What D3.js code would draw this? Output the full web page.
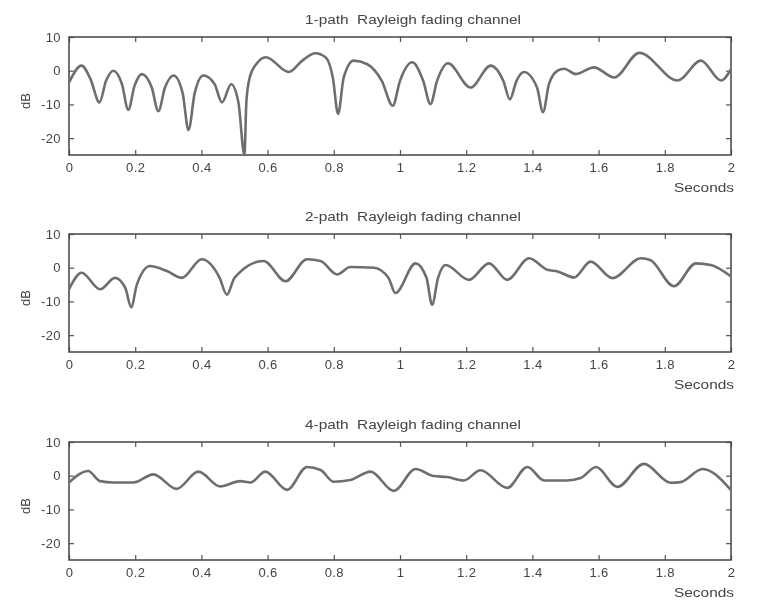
<!DOCTYPE html>
<html>
<head>
<meta charset="utf-8">
<script src="https://cdn.jsdelivr.net/npm/d3@7"></script>
<style>
  body { margin: 0; background: #fff; }
  svg { display: block; font-family: "Liberation Sans", Arial, sans-serif; }
  .tick text { fill: #444; font-size: 13px; letter-spacing: 0.4px; }
  .tick line { stroke: #555; stroke-width: 1.2; }
  .box { fill: none; stroke: #444; stroke-width: 1.5; }
  .trace { fill: none; stroke: #6e6e6e; stroke-width: 2.6; stroke-linejoin: round; }
  .lbl { fill: #444; font-size: 13px; }
</style>
</head>
<body>
<svg width="766" height="602"></svg>
<script>
(function () {
    'use strict';

    const width = 766;
    const height = 602;

    // tick values / labels shared by all three panels
    const xTicks = [0, 0.2, 0.4, 0.6, 0.8, 1, 1.2, 1.4, 1.6, 1.8, 2];
    const xTickLabels = ['0', '0.2', '0.4', '0.6', '0.8', '1', '1.2', '1.4', '1.6', '1.8', '2'];
    const yTicks = [-20, -10, 0, 10];
    const yTickLabels = ['-20', '-10', '0', '10'];

    const titles = ['1-path\u00a0 Rayleigh fading channel', '2-path\u00a0 Rayleigh fading channel', '4-path\u00a0 Rayleigh fading channel'];

    // 1-path
    const time1 = [0, 0.038, 0.065, 0.092, 0.112, 0.134, 0.160, 0.179, 0.198, 0.220, 0.250, 0.270, 0.290, 0.316,
        0.343, 0.361, 0.380, 0.406, 0.440, 0.462, 0.490, 0.512, 0.530, 0.536, 0.546, 0.566, 0.595, 0.664, 0.705, 0.744,
        0.775, 0.797, 0.813, 0.830, 0.860, 0.900, 0.945, 0.978, 1.000, 1.037, 1.070, 1.092, 1.112, 1.145, 1.213,
        1.274, 1.312, 1.332, 1.352, 1.375, 1.414, 1.432, 1.450, 1.476, 1.496, 1.531, 1.586, 1.647, 1.723, 1.839,
        1.909, 1.970, 2.0];
    const level1 = [-3.5, 1.5, -2.5, -9.4, -3.0, 0.0, -4.0, -11.6, -4.5, -1.0, -5.0, -12.0, -5.0, -1.4,
        -6.5, -17.6, -6.5, -1.4, -4.0, -9.4, -4.0, -9.5, -25, -9.0, -2.0, 2.0, 4.0, -0.4, 3.0, 5.2,
        4.0, -2.0, -12.8, -2.0, 3.0, 2.0, -3.0, -10.4, -3.0, 2.5, -3.0, -9.9, -3.0, 2.2, -5.0,
        1.5, -3.0, -8.5, -3.0, -0.4, -5.0, -12.3, -4.0, 0.0, 0.6, -1.0, 1.0, -2.0, 5.3, -2.9,
        3.0, -2.9, 0.5];

    // 2-path
    const time2 = [0, 0.038, 0.094, 0.139, 0.170, 0.188, 0.205, 0.245, 0.296, 0.341, 0.401, 0.455, 0.477, 0.500,
        0.588, 0.654, 0.719, 0.760, 0.810, 0.850, 0.921, 0.965, 0.986, 1.047, 1.080, 1.097, 1.115, 1.138, 1.208,
        1.269, 1.324, 1.390, 1.445, 1.476, 1.526, 1.576, 1.642, 1.728, 1.756, 1.828, 1.894, 1.939, 2.0];
    const level2 = [-6.4, -1.5, -6.4, -3, -6, -11.7, -5, 0.5, -1, -3, 2.5, -3, -8, -3,
        2, -4, 2.5, 2, -2, 0.2, 0, -3, -7.5, 1.3, -3, -11, -3, 0.8, -3.6,
        1.3, -3.6, 2.8, -0.6, -1.1, -2.9, 1.8, -3.1, 2.8, 2.3, -5.5, 1.3, 0.8, -2.6];

    // 4-path
    const time3 = [0, 0.058, 0.094, 0.134, 0.195, 0.255, 0.325, 0.391, 0.457, 0.517, 0.548, 0.593, 0.659, 0.719,
        0.760, 0.800, 0.850, 0.911, 0.981, 1.047, 1.102, 1.143, 1.193, 1.243, 1.324, 1.385, 1.435, 1.505, 1.546,
        1.592, 1.657, 1.737, 1.818, 1.848, 1.914, 2.0];
    const level3 = [-2, 1.4, -1.6, -2, -2, 0.4, -3.9, 1.2, -3.2, -1.6, -2, 1.2, -4.2, 2.6,
        1.7, -1.8, -1.3, 1.2, -4.5, 2, -0.1, -0.4, -1.4, 1.6, -3.6, 2.6, -1.4, -1.4, -0.7,
        2.6, -3.3, 3.5, -2.1, -1.9, 2, -4.3];

    const series = [
        d3.zip(time1, level1),
        d3.zip(time2, level2),
        d3.zip(time3, level3)
    ];

    const panels = [
        { top: 37, bottom: 155 },
        { top: 234, bottom: 352 },
        { top: 442, bottom: 560 }
    ];
    const left = 69;
    const right = 731;

    const svg = d3.select('svg')
        .attr('viewBox', [0, 0, width, height]);

    // slight softening, the original is a scan
    svg.append('defs').append('filter').attr('id', 'soft')
        .append('feGaussianBlur').attr('stdDeviation', 0.55);

    svg.append('rect').attr('width', width).attr('height', height).attr('fill', '#fff');

    const root = svg.append('g').attr('filter', 'url(#soft)');

    const x = d3.scaleLinear()
        .domain([0, 2])
        .range([left, right]);

    panels.forEach((p, i) => {
        const y = d3.scaleLinear()
            .domain([-25, 10])
            .range([p.bottom, p.top]);

        const g = root.append('g').classed('panel', true);

        g.append('g')
            .attr('transform', `translate(0,${p.bottom})`)
            .call(d3.axisBottom(x).tickValues(xTicks).tickFormat((d, k) => xTickLabels[k])
                .tickSizeInner(-5).tickSizeOuter(0).tickPadding(8))
            .call(a => a.select('.domain').remove());

        g.append('g')
            .attr('transform', `translate(0,${p.top})`)
            .call(d3.axisTop(x).tickValues(xTicks).tickFormat('')
                .tickSizeInner(-5).tickSizeOuter(0))
            .call(a => a.select('.domain').remove());

        g.append('g')
            .attr('transform', `translate(${left},0)`)
            .call(d3.axisLeft(y).tickValues(yTicks).tickFormat((d, k) => yTickLabels[k])
                .tickSizeInner(-5).tickSizeOuter(0).tickPadding(8))
            .call(a => a.select('.domain').remove());

        g.append('g')
            .attr('transform', `translate(${right},0)`)
            .call(d3.axisRight(y).tickValues(yTicks).tickFormat('')
                .tickSizeInner(-5).tickSizeOuter(0))
            .call(a => a.select('.domain').remove());

        g.append('rect').classed('box', true)
            .attr('x', left).attr('y', p.top)
            .attr('width', right - left).attr('height', p.bottom - p.top);

        g.append('path').classed('trace', true)
            .attr('d', d3.line()
                .x(d => x(d[0]))
                .y(d => y(Math.max(d[1], -25)))
                .curve(d3.curveMonotoneX)(series[i]));

        g.append('text').classed('lbl', true)
            .attr('x', 305).attr('y', p.top - 13)
            .attr('textLength', 216)
            .attr('lengthAdjust', 'spacingAndGlyphs')
            .text(titles[i]);

        g.append('text').classed('lbl', true)
            .attr('x', 674).attr('y', p.bottom + 37)
            .attr('textLength', 60)
            .attr('lengthAdjust', 'spacingAndGlyphs')
            .text('Seconds');

        g.append('text').classed('lbl', true)
            .attr('transform', `translate(30,${y(-9)}) rotate(-90)`)
            .attr('text-anchor', 'middle')
            .text('dB');
    });
})();
</script>
</body>
</html>
